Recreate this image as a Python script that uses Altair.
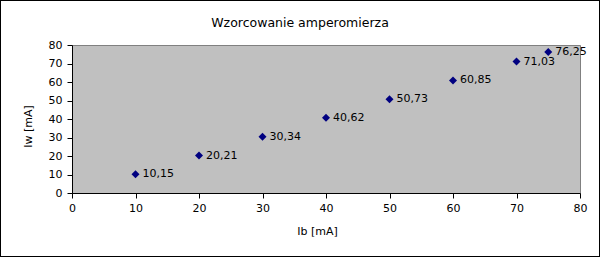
import altair as alt
import pandas as pd

ib = [10, 20, 30, 40, 50, 60, 70, 75]
iw = [10.15, 20.21, 30.34, 40.62, 50.73, 60.85, 71.03, 76.25]
labels = ["10,15", "20,21", "30,34", "40,62", "50,73", "60,85", "71,03", "76,25"]
ticks = [0, 10, 20, 30, 40, 50, 60, 70, 80]
chart_title = "Wzorcowanie amperomierza"

df = pd.DataFrame({"Ib": ib, "Iw": iw, "lab": labels})

FONT = "DejaVu Sans"

x = alt.X("Ib:Q", scale=alt.Scale(domain=[0, 80], nice=False),
          axis=alt.Axis(title="Ib [mA]", values=ticks, tickCount=9, grid=False, labelOverlap=False, labelFlush=False,
                        labelPadding=4,
                        titleX=245, titleY=38, titleBaseline="middle", titleAlign="center"))
y = alt.Y("Iw:Q", scale=alt.Scale(domain=[0, 80], nice=False),
          axis=alt.Axis(title="Iw [mA]", values=ticks, tickCount=9, grid=False, labelOverlap=False, labelFlush=False,
                        labelPadding=5,
                        titleX=-43.5, titleY=81, titleBaseline="middle", titleAlign="center",
                        titleAngle=270))

base = alt.Chart(df)
pts = base.mark_point(shape="diamond", filled=True, color="#000080", size=64, opacity=1).encode(x=x, y=y)
txt = base.mark_text(align="left", baseline="middle", dx=7, font=FONT, fontSize=11, color="#000000").encode(
    x=x, y=y, text="lab:N")
border = base.mark_rect(fill=None, stroke="#000000", strokeWidth=1).encode(
    x=alt.value(-71.5), x2=alt.value(527.5), y=alt.value(-44.5), y2=alt.value(211.5))
ttl = alt.Chart(pd.DataFrame({"t": [chart_title]})).mark_text(
    font=FONT, fontSize=12.5, color="#000000", align="center", baseline="alphabetic").encode(
    x=alt.value(228), y=alt.value(-18), text="t:N")

chart = alt.layer(pts, txt, border, ttl).properties(
    width=508, height=148,
    autosize=alt.AutoSizeParams(type="none"),
    padding={"left": 72, "top": 45, "right": 20, "bottom": 64},
    background="#ffffff",
).configure_view(fill="#C0C0C0", stroke="#808080", strokeWidth=1).configure_axis(
    domainColor="#000000", tickColor="#000000", tickSize=5, labelFont=FONT, labelFontSize=11,
    labelColor="#000000", titleFont=FONT, titleFontSize=11, titleFontWeight="normal",
    titleColor="#000000", domainWidth=1, tickWidth=1
)

chart.save("out.html", embed_options={"renderer": "svg", "actions": False})
